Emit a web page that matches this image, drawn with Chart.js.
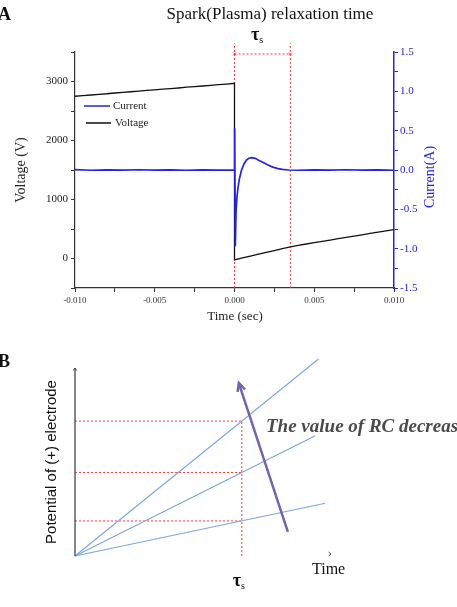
<!DOCTYPE html>
<html>
<head>
<meta charset="utf-8">
<script src="https://cdn.jsdelivr.net/npm/chart.js@4.4.1/dist/chart.umd.min.js"></script>
<style>
html,body{margin:0;padding:0;background:#fff;}
#wrap{position:relative;width:457px;height:607px;overflow:hidden;background:#fff;}
canvas{position:absolute;left:0;}
#chartA{top:0;}
#chartB{top:330px;}
</style>
</head>
<body>
<div id="wrap">
<canvas id="chartA" width="457" height="330"></canvas>
<canvas id="chartB" width="457" height="277"></canvas>
</div>
<script>
// ---- panel A : measured traces ----
const voltTime = [
  -0.010,-0.0095,-0.009,-0.0085,-0.008,-0.0075,-0.007,-0.0065,-0.006,-0.0055,
  -0.005,-0.0045,-0.004,-0.0035,-0.003,-0.0025,-0.002,-0.0015,-0.001,-0.0005,0.000,
  0.000,0.0005,0.001,0.0015,0.002,0.0025,0.003,0.0035,0.004,0.0045,
  0.005,0.0055,0.006,0.0065,0.007,0.0075,0.008,0.0085,0.009,0.0095,0.010
];
const voltValues = [
  2750,2762,2771,2783,2792,2805,2815,2826,2836,2848,
  2858,2870,2880,2890,2903,2912,2924,2934,2946,2957,2970,
  -25,12,42,74,104,134,166,196,222,246,
  268,291,313,336,358,380,402,425,447,470,490
];

const curTime = [
  -0.010,-0.009,-0.008,-0.007,-0.006,-0.005,-0.004,-0.003,-0.002,-0.001,0.000,
  0.00001,0.00005,0.0001,0.00016,0.00023,0.0003,0.00044,0.0006,0.00075,0.0009,
  0.00107,0.0013,0.00148,0.0018,0.0021,0.0024,0.00273,0.003,0.0034,
  0.004,0.005,0.006,0.007,0.008,0.009,0.010
];
const curValues = [
  0.004,-0.003,0.002,-0.002,0.003,-0.002,0.002,-0.003,0.002,-0.002,0.0,
  0.53,-0.97,-0.51,-0.33,-0.21,-0.12,0.0,0.08,0.127,0.15,
  0.156,0.148,0.127,0.095,0.064,0.037,0.017,0.007,0.0,
  -0.003,0.002,-0.002,0.003,-0.002,0.002,-0.003
];

const tauStart = 0;
const tauEnd = 0.0035;
const markerTop = 1.61;
const markerLevel = 1.475;

const timeTicks = [-0.010,-0.005,0.000,0.005,0.010];
const voltTicks = [0,1000,2000,3000];
const curTicks = [-1.5,-1.0,-0.5,0.0,0.5,1.0,1.5];

// ---- panel B : schematic ----
const rcLineEndX = [7.3, 7.2, 7.5];
const rcLineEndY = [5.9, 3.6, 1.58];
const tauB = 5;
const tauLevels = [4.04, 2.5, 1.05];
const rcArrowX = [6.38, 4.91];
const rcArrowY = [0.72, 5.18];
const potentialTop = 5.63;

const SERIF = "'Liberation Serif', 'DejaVu Serif', serif";
const SANS = "'Liberation Sans', Arial, sans-serif";
const BLUE = "#2424e0";
const RED = "#ff3b3b";

function pts(xs, ys){
  return xs.map((x,i)=>({x:x, y:ys[i]}));
}

function hasTick(list, v){
  return list.some(t => Math.abs(t - v) < 1e-9);
}

function drawTau(ctx, x, y){
  ctx.fillStyle = "#111";
  ctx.textAlign = "left";
  ctx.textBaseline = "middle";
  ctx.font = "bold 18px " + SERIF;
  ctx.fillText("τ", x, y);
  const w = ctx.measureText("τ").width;
  ctx.font = "10px " + SERIF;
  ctx.fillText("s", x + w, y + 5);
}

function chevron(ctx, x0, y0, x1, y1, len, ang){
  const a = Math.atan2(y1 - y0, x1 - x0);
  ctx.beginPath();
  ctx.moveTo(x1 - len*Math.cos(a - ang), y1 - len*Math.sin(a - ang));
  ctx.lineTo(x1, y1);
  ctx.lineTo(x1 - len*Math.cos(a + ang), y1 - len*Math.sin(a + ang));
  ctx.stroke();
}

const textA = {
  id: "textA",
  afterDraw(chart){
    const ctx = chart.ctx;
    ctx.save();

    ctx.fillStyle = "#111";
    ctx.font = "bold 18px " + SERIF;
    ctx.textAlign = "left";
    ctx.textBaseline = "middle";
    ctx.fillText("A", -2, 15);

    ctx.font = "17px " + SERIF;
    ctx.textAlign = "center";
    ctx.fillText("Spark(Plasma) relaxation time", 270, 15);

    drawTau(ctx, 251, 35);

    // legend
    ctx.lineWidth = 1.5;
    ctx.strokeStyle = BLUE;
    ctx.beginPath(); ctx.moveTo(84,106); ctx.lineTo(110,106); ctx.stroke();
    ctx.strokeStyle = "#111";
    ctx.beginPath(); ctx.moveTo(86,123); ctx.lineTo(111,123); ctx.stroke();
    ctx.fillStyle = "#222";
    ctx.font = "11px " + SERIF;
    ctx.textAlign = "left";
    ctx.fillText("Current", 113, 106);
    ctx.fillText("Voltage", 115, 123);

    // axis titles
    ctx.font = "13px " + SERIF;
    ctx.textAlign = "center";
    ctx.fillText("Time (sec)", 235, 317);

    ctx.font = "14px " + SERIF;
    ctx.save();
    ctx.translate(21, 170);
    ctx.rotate(-Math.PI/2);
    ctx.fillText("Voltage (V)", 0, 0);
    ctx.restore();

    ctx.save();
    ctx.translate(430, 177);
    ctx.rotate(-Math.PI/2);
    ctx.fillStyle = BLUE;
    ctx.fillText("Current(A)", 0, 0);
    ctx.restore();

    ctx.restore();
  }
};

const textB = {
  id: "textB",
  afterDraw(chart){
    const ctx = chart.ctx;
    const xs = chart.scales.x;
    const ys = chart.scales.y;
    ctx.save();

    ctx.fillStyle = "#111";
    ctx.font = "bold 18px " + SERIF;
    ctx.textAlign = "left";
    ctx.textBaseline = "middle";
    ctx.fillText("B", -2, 32);

    // arrow heads
    ctx.strokeStyle = "#7464b0";
    ctx.lineWidth = 2.5;
    chevron(ctx,
      xs.getPixelForValue(rcArrowX[0]), ys.getPixelForValue(rcArrowY[0]),
      xs.getPixelForValue(rcArrowX[1]), ys.getPixelForValue(rcArrowY[1]),
      9, 0.45);

    ctx.strokeStyle = "#444";
    ctx.lineWidth = 1;
    chevron(ctx, 75, 60, 75, ys.getPixelForValue(potentialTop), 3, 0.6);
    chevron(ctx, 320, 224, 331, 224, 3, 0.7);

    ctx.save();
    ctx.translate(52, 132);
    ctx.rotate(-Math.PI/2);
    ctx.fillStyle = "#111";
    ctx.font = "15px " + SANS;
    ctx.textAlign = "center";
    ctx.fillText("Potential of (+) electrode", 0, 0);
    ctx.restore();

    ctx.fillStyle = "#4a4a4a";
    ctx.font = "italic bold 19px " + SERIF;
    ctx.textAlign = "left";
    ctx.fillText("The value of RC decrease", 266, 97);

    ctx.fillStyle = "#111";
    ctx.font = "16px " + SERIF;
    ctx.fillText("Time", 312, 240);

    drawTau(ctx, xs.getPixelForValue(tauB) - 9, 251);

    ctx.restore();
  }
};

window.onload = () => {

  new Chart(document.getElementById("chartA"), {
    type: "line",
    data: {
      datasets: [
        {
          label: "Current",
          data: pts(curTime, curValues),
          yAxisID: "y1",
          borderColor: BLUE,
          borderWidth: 1.7,
          pointRadius: 0,
          tension: 0,
          order: 1
        },
        {
          label: "Voltage",
          data: pts(voltTime, voltValues),
          yAxisID: "y",
          borderColor: "#111",
          borderWidth: 1.3,
          pointRadius: 0,
          order: 2
        },
        {
          data: [{x:tauStart,y:-1.5},{x:tauStart,y:markerTop}],
          yAxisID: "y1",
          borderColor: RED,
          borderWidth: 1,
          borderDash: [2,2],
          pointRadius: 0,
          clip: false,
          order: 3
        },
        {
          data: [{x:tauEnd,y:-1.5},{x:tauEnd,y:markerTop}],
          yAxisID: "y1",
          borderColor: RED,
          borderWidth: 1,
          borderDash: [2,2],
          pointRadius: 0,
          clip: false,
          order: 3
        },
        {
          data: [{x:tauStart,y:markerLevel},{x:tauEnd,y:markerLevel}],
          yAxisID: "y1",
          borderColor: RED,
          borderWidth: 1,
          borderDash: [2,2],
          pointRadius: 2,
          pointStyle: "crossRot",
          pointBorderColor: RED,
          pointBorderWidth: 1,
          clip: false,
          order: 3
        }
      ]
    },
    options: {
      responsive: false,
      animation: false,
      layout: { padding: { top: 52, left: 0, right: 0, bottom: 0 } },
      plugins: { legend: { display: false }, tooltip: { enabled: false } },
      scales: {
        x: {
          type: "linear",
          min: -0.01,
          max: 0.01,
          ticks: {
            stepSize: 0.0025,
            autoSkip: false,
            maxRotation: 0,
            padding: 3,
            color: "#333",
            font: { family: SERIF, size: 9 },
            callback: v => hasTick(timeTicks, v) ? (Math.round(v*1000)/1000).toFixed(3) : ""
          },
          grid: { drawOnChartArea: false, tickLength: 4, color: "#333" },
          border: { color: "#333", width: 1.2 },
          afterFit: s => { s.height = 42; }
        },
        y: {
          position: "left",
          min: -500,
          max: 3500,
          ticks: {
            stepSize: 500,
            padding: 3,
            color: "#222",
            font: { family: SERIF, size: 11 },
            callback: v => hasTick(voltTicks, v) ? String(v) : ""
          },
          grid: { drawOnChartArea: false, tickLength: 4, color: "#333" },
          border: { color: "#333", width: 1.2 },
          afterFit: s => { s.width = 75; }
        },
        y1: {
          position: "right",
          min: -1.5,
          max: 1.5,
          ticks: {
            stepSize: 0.25,
            padding: 2,
            color: BLUE,
            font: { family: SERIF, size: 11 },
            callback: v => hasTick(curTicks, v) ? v.toFixed(1) : ""
          },
          grid: { drawOnChartArea: false, tickLength: 4, color: BLUE },
          border: { color: BLUE, width: 1.5 },
          afterFit: s => { s.width = 63; }
        }
      }
    },
    plugins: [textA]
  });

  const rcSets = rcLineEndX.map((ex,i)=>({
    data: [{x:0,y:0},{x:ex,y:rcLineEndY[i]}],
    borderColor: "#7aa6dc",
    borderWidth: 1.1,
    pointRadius: 0,
    clip: false
  }));

  const levelSets = tauLevels.map(l=>({
    data: [{x:0,y:l},{x:tauB,y:l}],
    borderColor: RED,
    borderWidth: 1,
    borderDash: [2,2],
    pointRadius: 0,
    clip: false
  }));

  new Chart(document.getElementById("chartB"), {
    type: "line",
    data: {
      datasets: [
        {
          data: pts(rcArrowX, rcArrowY),
          borderColor: "#7464b0",
          borderWidth: 2.5,
          pointRadius: 0,
          clip: false
        },
        {
          data: [{x:0,y:0},{x:0,y:potentialTop}],
          borderColor: "#444",
          borderWidth: 1.3,
          pointRadius: 0,
          clip: false
        },
        ...rcSets,
        {
          data: [{x:tauB,y:0},{x:tauB,y:Math.max(...tauLevels)}],
          borderColor: RED,
          borderWidth: 1,
          borderDash: [2,2],
          pointRadius: 0,
          clip: false
        },
        ...levelSets
      ]
    },
    options: {
      responsive: false,
      animation: false,
      layout: { padding: { top: 38, left: 75, right: 15, bottom: 51 } },
      plugins: { legend: { display: false }, tooltip: { enabled: false } },
      scales: {
        x: { type: "linear", display: false, min: 0, max: 11 },
        y: { display: false, min: 0, max: potentialTop }
      }
    },
    plugins: [textB]
  });
};
</script>
</body>
</html>
